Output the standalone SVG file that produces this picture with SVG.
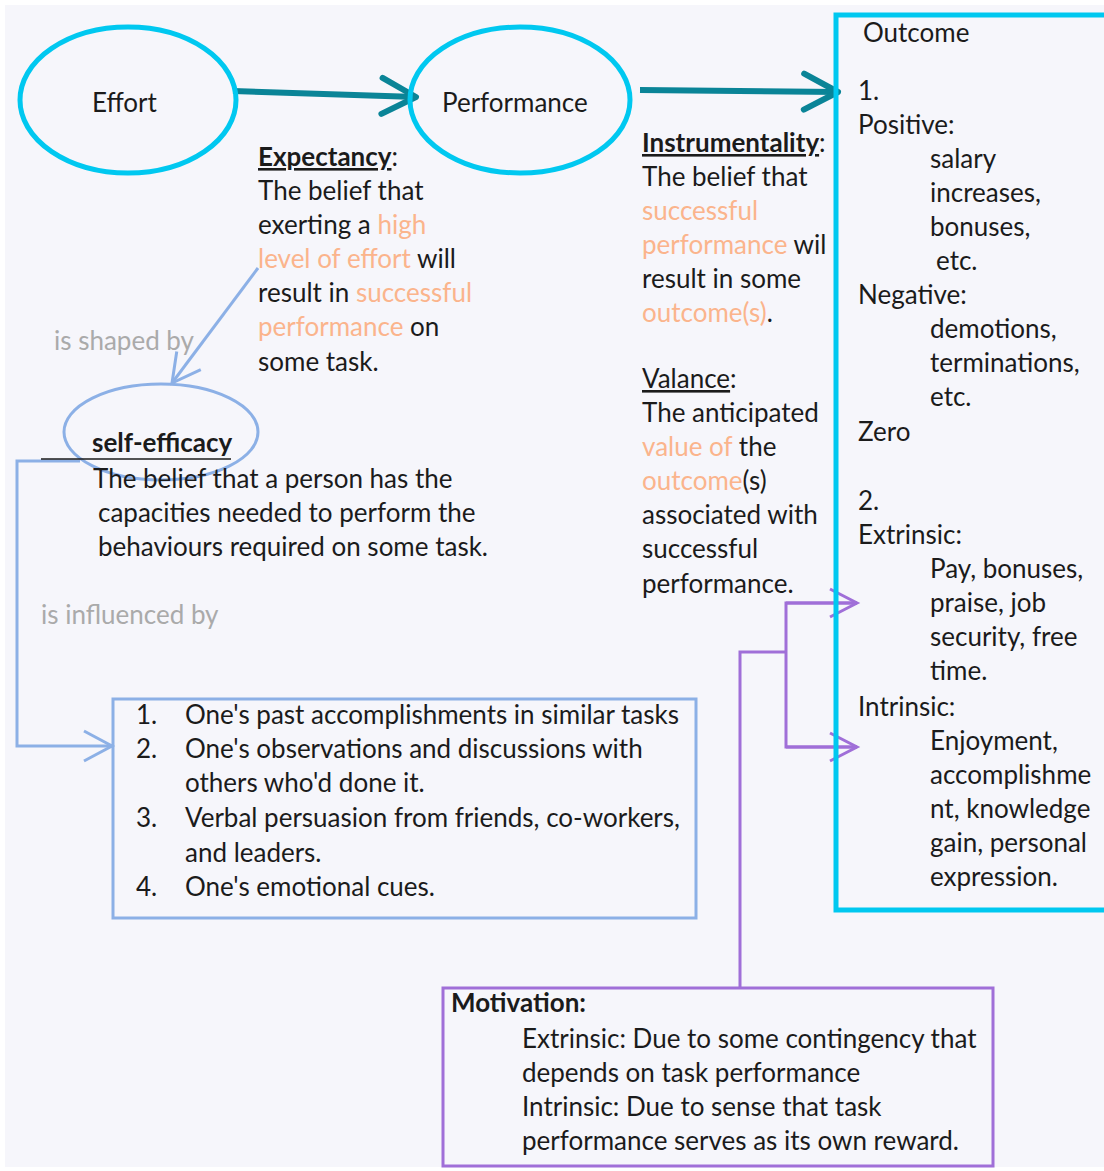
<svg xmlns="http://www.w3.org/2000/svg" width="1104" height="1171" viewBox="0 0 1104 1171">
<style>
text{font-family:Lato,"Liberation Sans",sans-serif;font-size:26px;fill:#1b1b1b}
.o{fill:#fbb48c}
.g{fill:#aaaaaa}
.b{font-weight:bold}
.u{text-decoration:underline}
.cyan{fill:none;stroke:#00c8f0;stroke-width:5}
.teal{fill:none;stroke:#0a8497;stroke-width:6}
.lb{fill:none;stroke:#8cb0e6;stroke-width:3}
.pu{fill:none;stroke:#a06fd8;stroke-width:3}
</style>
<defs>
<marker id="mTeal" markerUnits="userSpaceOnUse" viewBox="-45 -25 50 50" markerWidth="50" markerHeight="50" refX="0" refY="0" orient="auto" overflow="visible">
<path d="M-34 -18 L0 0 L-34 18" fill="none" stroke="#0a8497" stroke-width="6" stroke-linecap="round" stroke-linejoin="round"/>
</marker>
<marker id="mBlue" markerUnits="userSpaceOnUse" viewBox="-40 -20 45 40" markerWidth="45" markerHeight="40" refX="0" refY="0" orient="auto" overflow="visible">
<path d="M-28 -15 L0 0 L-28 15" fill="none" stroke="#8cb0e6" stroke-width="3"/>
</marker>
<marker id="mPurple" markerUnits="userSpaceOnUse" viewBox="-40 -20 45 40" markerWidth="45" markerHeight="40" refX="0" refY="0" orient="auto" overflow="visible">
<path d="M-27 -14 L0 0 L-27 14" fill="none" stroke="#a06fd8" stroke-width="3"/>
</marker>
</defs>
<rect width="1104" height="1171" fill="#ffffff"/>
<rect x="5" y="5" width="1099" height="1162" fill="#f6f6fb"/>

<g id="connectors">
<line class="teal" x1="233" y1="91" x2="416" y2="97" marker-end="url(#mTeal)"/>
<line class="teal" x1="640" y1="90" x2="838" y2="92" marker-end="url(#mTeal)"/>
<line class="lb" x1="258" y1="268" x2="172" y2="383" marker-end="url(#mBlue)"/>
<polyline class="lb" points="80,461 17,461 17,746 112,746" marker-end="url(#mBlue)"/>
<polyline class="pu" points="740,988 740,652 786,652"/>
<polyline class="pu" points="857,603 786,603 786,747 857,747"/>
<line class="pu" x1="786" y1="603" x2="857" y2="603" marker-end="url(#mPurple)"/>
<line class="pu" x1="786" y1="747" x2="857" y2="747" marker-end="url(#mPurple)"/>
</g>

<g id="effort">
<ellipse class="cyan" cx="128" cy="100" rx="108" ry="73"/>
<text x="92" y="112">Effort</text>
</g>

<g id="performance">
<ellipse class="cyan" cx="520" cy="100" rx="110" ry="73"/>
<text x="442" y="112">Performance</text>
</g>

<g id="outcome">
<path class="cyan" d="M1110 15 L836 15 L836 910 L1110 910" stroke-width="6"/>
<text x="863" y="42">Outcome</text>
<text x="858" y="100">1.</text>
<text x="858" y="134">Positive:</text>
<text x="930" y="168">salary</text>
<text x="930" y="202">increases,</text>
<text x="930" y="236">bonuses,</text>
<text x="936" y="270">etc.</text>
<text x="858" y="304">Negative:</text>
<text x="930" y="338">demotions,</text>
<text x="930" y="372">terminations,</text>
<text x="930" y="406">etc.</text>
<text x="858" y="441">Zero</text>
<text x="858" y="510">2.</text>
<text x="858" y="544">Extrinsic:</text>
<text x="930" y="578">Pay, bonuses,</text>
<text x="930" y="612">praise, job</text>
<text x="930" y="646">security, free</text>
<text x="930" y="680">time.</text>
<text x="858" y="716">Intrinsic:</text>
<text x="930" y="750">Enjoyment,</text>
<text x="930" y="784">accomplishme</text>
<text x="930" y="818">nt, knowledge</text>
<text x="930" y="852">gain, personal</text>
<text x="930" y="886">expression.</text>
</g>

<g id="expectancy">
<text x="258" y="166"><tspan class="b u">Expectancy</tspan>:</text>
<text x="258" y="200">The belief that</text>
<text x="258" y="234">exerting a <tspan class="o">high</tspan></text>
<text x="258" y="268"><tspan class="o">level of effort</tspan> will</text>
<text x="258" y="302">result in <tspan class="o">successful</tspan></text>
<text x="258" y="336"><tspan class="o">performance</tspan> on</text>
<text x="258" y="371">some task.</text>
</g>

<g id="instrumentality">
<text x="642" y="152"><tspan class="b u">Instrumentality</tspan>:</text>
<text x="642" y="186">The belief that</text>
<text x="642" y="220" class="o">successful</text>
<text x="642" y="254"><tspan class="o">performance</tspan> wil</text>
<text x="642" y="288">result in some</text>
<text x="642" y="322"><tspan class="o">outcome(s)</tspan>.</text>
<text x="642" y="388"><tspan class="u">Valance</tspan>:</text>
<text x="642" y="422">The anticipated</text>
<text x="642" y="456"><tspan class="o">value of</tspan> the</text>
<text x="642" y="490"><tspan class="o">outcome</tspan>(s)</text>
<text x="642" y="524">associated with</text>
<text x="642" y="558">successful</text>
<text x="642" y="593">performance.</text>
</g>

<g id="shaped-label">
<text x="54" y="350" class="g">is shaped by</text>
</g>

<g id="self-efficacy">
<ellipse class="lb" cx="161" cy="432" rx="97" ry="48"/>
<line x1="41" y1="459" x2="231" y2="459" stroke="#1b1b1b" stroke-width="1.5"/>
<text x="92" y="452" class="b">self-efficacy</text>
<text x="93" y="488">The  belief that a person has the</text>
<text x="98" y="522">capacities needed to perform the</text>
<text x="98" y="556">behaviours required on some task.</text>
</g>

<g id="influenced-label">
<text x="41" y="624" class="g">is influenced by</text>
</g>

<g id="factors">
<rect class="lb" x="113" y="699" width="583" height="219"/>
<text x="136" y="724">1.</text><text x="185" y="724">One's past accomplishments in similar tasks</text>
<text x="136" y="758">2.</text><text x="185" y="758">One's observations and discussions with</text>
<text x="185" y="792">others who'd done it.</text>
<text x="136" y="827">3.</text><text x="185" y="827">Verbal persuasion from friends, co-workers,</text>
<text x="185" y="862">and leaders.</text>
<text x="136" y="896">4.</text><text x="185" y="896">One's emotional cues.</text>
</g>

<g id="motivation">
<rect class="pu" x="443" y="988" width="550" height="178"/>
<text x="451" y="1012" class="b">Motivation:</text>
<text x="522" y="1048">Extrinsic: Due to some contingency that</text>
<text x="522" y="1082">depends on task performance</text>
<text x="522" y="1116">Intrinsic: Due to sense that task</text>
<text x="522" y="1150">performance serves as its own reward.</text>
</g>
</svg>
